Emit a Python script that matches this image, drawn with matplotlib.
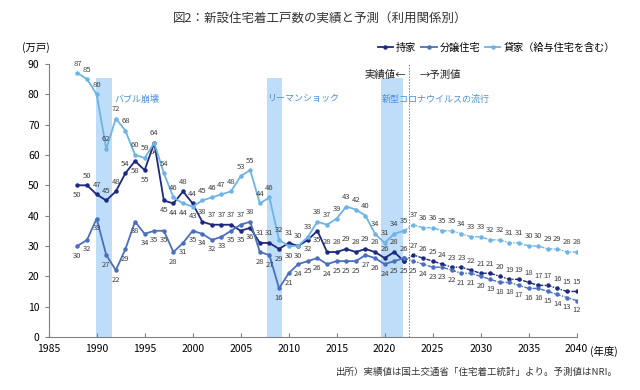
import matplotlib

matplotlib.use("Agg")

import matplotlib.pyplot as plt
from matplotlib.lines import Line2D

plt.rcParams["font.family"] = ["Noto Sans CJK JP", "DejaVu Sans"]

# DATA

years = list(range(1988, 2023))
years_f = list(range(2023, 2041))

own = [50, 50, 47, 45, 48, 54, 58, 55, 64, 45, 44, 48, 44, 38, 37, 37, 37, 35,
       36, 31, 31, 29, 31, 30, 32, 35, 28, 28, 29, 28, 29, 28, 26, 28, 25]
sale = [30, 32, 39, 27, 22, 29, 38, 34, 35, 35, 28, 31, 35, 34, 32, 33, 35, 37,
        38, 28, 27, 16, 21, 24, 25, 26, 24, 25, 25, 25, 27, 26, 24, 25, 26]
rent = [87, 85, 80, 62, 72, 68, 60, 59, 64, 54, 46, 44, 43, 45, 46, 47, 48, 53,
        55, 44, 46, 32, 30, 30, 33, 38, 37, 39, 43, 42, 40, 34, 31, 34, 35]

own_f = [27, 26, 25, 24, 23, 23, 22, 21, 21, 20, 19, 19, 18, 17, 17, 16, 15, 15]
sale_f = [25, 24, 23, 23, 22, 21, 21, 20, 19, 18, 18, 17, 16, 16, 15, 14, 13, 12]
rent_f = [37, 36, 36, 35, 35, 34, 33, 33, 32, 32, 31, 31, 30, 30, 29, 29, 28, 28]

names = ["持家", "分譲住宅", "貸家（給与住宅を含む）"]

events = [
    ("バブル崩壊", 1989.9, 1991.6),
    ("リーマンショック", 2007.7, 2009.3),
    ("新型コロナウイルスの流行", 2019.6, 2021.9),
]

# labels placed on the other side of the point
own_below = {1988, 1994, 1995, 1996, 1997, 1998, 2005, 2006, 2009, 2012, 2013, 2022}
rent_below = {1999, 2000, 2010, 2011}
sale_above = {2005, 2006, 2022}

C_OWN = "#1B2A80"
C_SALE = "#4B6EBE"
C_RENT = "#6DB3E6"
C_BAND = "#BEDDF8"
C_NOTE = "#4A8FD6"
C_TXT = "#404040"

fig = plt.figure(figsize=(6.4, 3.9), dpi=100)
ax = fig.add_axes([0.076, 0.136, 0.825, 0.70])

# shaded periods
for label, x0, x1 in events:
    ax.fill_between([x0, x1], 0, 85.5, color=C_BAND, lw=0, zorder=0)
    ax.text(x0 + 0.1 if label != "バブル崩壊" else x1 + 0.3, 78.5, label,
            color=C_NOTE, fontsize=6.5, va="center", ha="left")

ax.axvline(2022.5, color="#808080", lw=0.7, ls=(0, (1.5, 1.5)), zorder=1)
ax.text(2022.2, 86.5, "実績値←", fontsize=7.5, ha="right", va="center", color="#222222")
ax.text(2023.6, 86.5, "→予測値", fontsize=7.5, ha="left", va="center", color="#222222")

series = [
    (own, own_f, C_OWN, own_below, False),
    (sale, sale_f, C_SALE, sale_above, True),
    (rent, rent_f, C_RENT, rent_below, False),
]

for vals, vals_f, col, flip, default_below in series:
    ax.plot(years, vals, color=col, lw=1.3, marker="o", ms=2.2, zorder=3)
    ax.plot([years[-1]] + years_f, [vals[-1]] + vals_f, color=col, lw=1.0,
            ls=(0, (3, 1, 1, 1)), marker="o", ms=2.2, zorder=3)
    for yr, v in zip(years, vals):
        below = default_below != (yr in flip)
        ax.annotate(str(v), (yr, v), xytext=(0, -4 if below else 4),
                    textcoords="offset points", ha="center",
                    va="top" if below else "bottom", fontsize=5.5, color=C_TXT)
    for yr, v in zip(years_f, vals_f):
        ax.annotate(str(v), (yr, v), xytext=(0, -4 if default_below else 4),
                    textcoords="offset points", ha="center",
                    va="top" if default_below else "bottom", fontsize=5.5, color=C_TXT)

ax.set_xlim(1985, 2040)
ax.set_ylim(0, 90)
ax.set_xticks(range(1985, 2041, 5))
ax.set_yticks(range(0, 91, 10))
ax.tick_params(axis="x", direction="in", length=3, labelsize=7.5, color="#808080", pad=5)
ax.tick_params(axis="y", direction="out", length=3, labelsize=7.5, color="#808080")
for s in ["top", "right"]:
    ax.spines[s].set_visible(False)
for s in ["left", "bottom"]:
    ax.spines[s].set_color("#808080")
    ax.spines[s].set_linewidth(0.8)

fig.text(0.5, 0.953, "図2：新設住宅着工戸数の実績と予測（利用関係別）",
         ha="center", va="center", fontsize=9, color="#333333")
fig.text(0.035, 0.878, "(万戸)", fontsize=7.5, ha="left", va="center")
fig.text(0.922, 0.099, "(年度)", fontsize=7.5, ha="left", va="center")
fig.text(0.965, 0.045, "出所）実績値は国土交通省「住宅着工統計」より。予測値はNRI。",
         fontsize=6.8, ha="right", va="center", color="#333333")

handles = [Line2D([], [], color=c, lw=1.3, marker="o", ms=2.2)
           for c in (C_OWN, C_SALE, C_RENT)]
fig.legend(handles, names, loc="center right", bbox_to_anchor=(0.975, 0.877),
           ncol=3, frameon=False, fontsize=7.3, handlelength=1.5,
           handletextpad=0.3, columnspacing=0.5)

fig.savefig("out.png", dpi=100)
plt.close(fig)
